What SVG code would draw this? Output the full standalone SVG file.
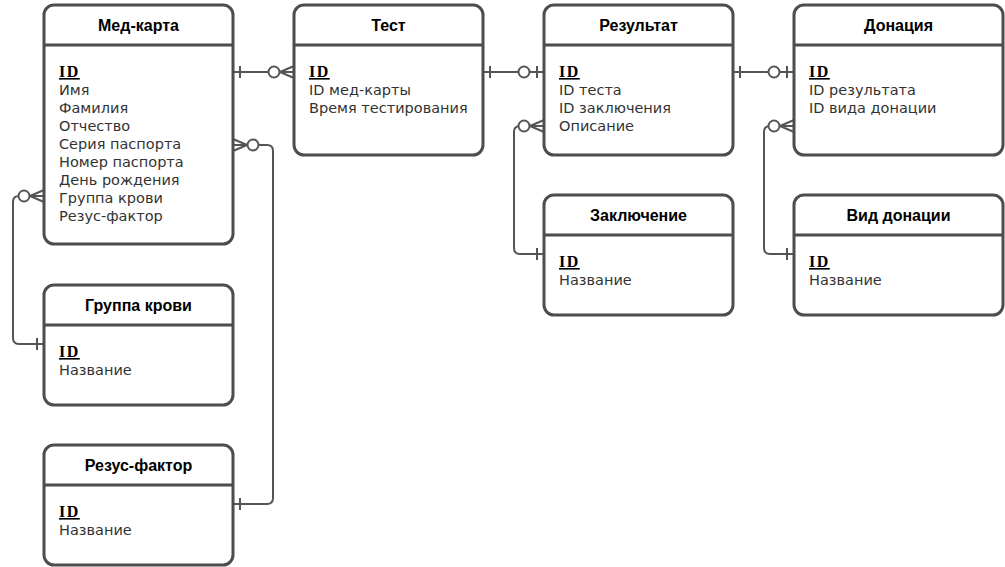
<svg xmlns="http://www.w3.org/2000/svg" xmlns:xlink="http://www.w3.org/1999/xlink" width="1005" height="567" viewBox="0 0 1005 567">
<style>
.box{fill:#fff;stroke:#4d4d4d;stroke-width:3}
.div{stroke:#4d4d4d;stroke-width:3}
.title{font-family:"Liberation Sans",Arial,sans-serif;font-weight:bold;font-size:16px;fill:#000;text-anchor:middle}
.attr{font-family:"DejaVu Sans",Verdana,sans-serif;font-size:14.5px;fill:#333}
.pk{font-family:"Liberation Serif","Times New Roman",serif;font-weight:bold;font-size:16px;letter-spacing:1.5px;fill:#000;text-decoration:underline}
.ln{fill:none;stroke:#555;stroke-width:2}
.circ{fill:#fff;stroke:#555;stroke-width:2}
</style>
<defs>
  <g id="zm"><path class="ln" d="M-14,0 L0,-6 M-14,0 L0,0 M-14,0 L0,6"/><circle class="circ" cx="-20" cy="0" r="5.5"/></g>
  <g id="zo"><path class="ln" d="M-7,-6 V6"/><circle class="circ" cx="-20" cy="0" r="5.5"/></g>
  <g id="one"><path class="ln" d="M-7,-6 V6"/></g>
</defs>
<rect width="1005" height="567" fill="#fff"/>
<g id="connectors">
  <path class="ln" d="M233,72 H294"/>
  <use xlink:href="#one" transform="translate(233,72) scale(-1,1)"/>
  <use xlink:href="#zm" transform="translate(294,72)"/>
  <path class="ln" d="M483,72 H544"/>
  <use xlink:href="#one" transform="translate(483,72) scale(-1,1)"/>
  <use xlink:href="#zo" transform="translate(544,72)"/>
  <path class="ln" d="M733,72 H794"/>
  <use xlink:href="#one" transform="translate(733,72) scale(-1,1)"/>
  <use xlink:href="#zo" transform="translate(794,72)"/>
  <path class="ln" d="M518,126 H520 Q514,126 514,132 V248 Q514,254 520,254 H544"/>
  <use xlink:href="#zm" transform="translate(544,126)"/>
  <use xlink:href="#one" transform="translate(544,254)"/>
  <path class="ln" d="M768,126 H770 Q764,126 764,132 V248 Q764,254 770,254 H794"/>
  <use xlink:href="#zm" transform="translate(794,126)"/>
  <use xlink:href="#one" transform="translate(794,254)"/>
  <path class="ln" d="M18,196 H19 Q13,196 13,202 V338 Q13,344 19,344 H44"/>
  <use xlink:href="#zm" transform="translate(44,196)"/>
  <use xlink:href="#one" transform="translate(44,344)"/>
  <path class="ln" d="M258,145 H267 Q273,145 273,151 V498 Q273,504 267,504 H233"/>
  <use xlink:href="#zm" transform="translate(233,145) scale(-1,1)"/>
  <use xlink:href="#one" transform="translate(233,504) scale(-1,1)"/>
</g>
<g id="med-karta">
  <rect class="box" x="44" y="5" width="189" height="239" rx="10"/>
  <line class="div" x1="44" y1="45" x2="233" y2="45"/>
  <text class="title" x="138.5" y="31">Мед-карта</text>
  <text class="pk" x="59" y="77">ID</text>
  <text class="attr" x="59" y="95">Имя</text>
  <text class="attr" x="59" y="113">Фамилия</text>
  <text class="attr" x="59" y="131">Отчество</text>
  <text class="attr" x="59" y="149">Серия паспорта</text>
  <text class="attr" x="59" y="167">Номер паспорта</text>
  <text class="attr" x="59" y="185">День рождения</text>
  <text class="attr" x="59" y="203">Группа крови</text>
  <text class="attr" x="59" y="221">Резус-фактор</text>
</g>
<g id="test">
  <rect class="box" x="294" y="5" width="189" height="150" rx="10"/>
  <line class="div" x1="294" y1="45" x2="483" y2="45"/>
  <text class="title" x="388.5" y="31">Тест</text>
  <text class="pk" x="309" y="77">ID</text>
  <text class="attr" x="309" y="95">ID мед-карты</text>
  <text class="attr" x="309" y="113">Время тестирования</text>
</g>
<g id="rezultat">
  <rect class="box" x="544" y="5" width="189" height="150" rx="10"/>
  <line class="div" x1="544" y1="45" x2="733" y2="45"/>
  <text class="title" x="638.5" y="31">Результат</text>
  <text class="pk" x="559" y="77">ID</text>
  <text class="attr" x="559" y="95">ID теста</text>
  <text class="attr" x="559" y="113">ID заключения</text>
  <text class="attr" x="559" y="131">Описание</text>
</g>
<g id="donaciya">
  <rect class="box" x="794" y="5" width="209" height="150" rx="10"/>
  <line class="div" x1="794" y1="45" x2="1003" y2="45"/>
  <text class="title" x="898.5" y="31">Донация</text>
  <text class="pk" x="809" y="77">ID</text>
  <text class="attr" x="809" y="95">ID результата</text>
  <text class="attr" x="809" y="113">ID вида донации</text>
</g>
<g id="zaklyuchenie">
  <rect class="box" x="544" y="195" width="189" height="120" rx="10"/>
  <line class="div" x1="544" y1="235" x2="733" y2="235"/>
  <text class="title" x="638.5" y="221">Заключение</text>
  <text class="pk" x="559" y="267">ID</text>
  <text class="attr" x="559" y="285">Название</text>
</g>
<g id="vid-donacii">
  <rect class="box" x="794" y="195" width="209" height="120" rx="10"/>
  <line class="div" x1="794" y1="235" x2="1003" y2="235"/>
  <text class="title" x="898.5" y="221">Вид донации</text>
  <text class="pk" x="809" y="267">ID</text>
  <text class="attr" x="809" y="285">Название</text>
</g>
<g id="gruppa-krovi">
  <rect class="box" x="44" y="285" width="189" height="120" rx="10"/>
  <line class="div" x1="44" y1="325" x2="233" y2="325"/>
  <text class="title" x="138.5" y="311">Группа крови</text>
  <text class="pk" x="59" y="357">ID</text>
  <text class="attr" x="59" y="375">Название</text>
</g>
<g id="rezus-faktor">
  <rect class="box" x="44" y="445" width="189" height="120" rx="10"/>
  <line class="div" x1="44" y1="485" x2="233" y2="485"/>
  <text class="title" x="138.5" y="471">Резус-фактор</text>
  <text class="pk" x="59" y="517">ID</text>
  <text class="attr" x="59" y="535">Название</text>
</g>
</svg>
